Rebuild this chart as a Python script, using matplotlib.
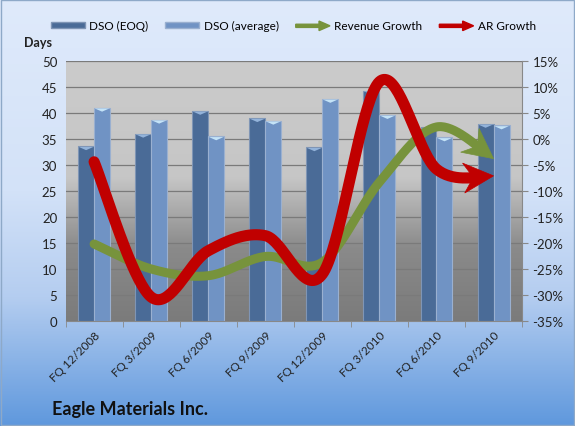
import numpy as np
import matplotlib
matplotlib.use("Agg")
import matplotlib.pyplot as plt
import matplotlib.patches as mpatches
from matplotlib.legend_handler import HandlerPatch
from matplotlib.colors import LinearSegmentedColormap

plt.rcParams['font.family'] = ['Lato', 'DejaVu Sans']

# data
quarters = ["FQ 12/2008", "FQ 3/2009", "FQ 6/2009", "FQ 9/2009",
            "FQ 12/2009", "FQ 3/2010", "FQ 6/2010", "FQ 9/2010"]
dso_eoq = [33.6, 36.0, 40.4, 39.0, 33.4, 44.3, 37.2, 37.9]
dso_avg = [41.0, 38.7, 35.5, 38.5, 42.7, 39.6, 35.3, 37.6]
revenue_growth = [-20.2, -25.0, -26.3, -22.6, -23.7, -8.3, 2.3, -3.8]
ar_growth = [-4.4, -30.4, -21.5, -18.6, -26.0, 11.0, -5.8, -7.1]

EOQ_COL = "#4a6b97"
AVG_COL = "#7093c4"
GREEN = "#77933c"
RED = "#c00000"


def smooth(xs, ys, n=40):
    # Excel-like smoothed line (Catmull-Rom through the points)
    p = np.column_stack([xs, ys]).astype(float)
    pts = np.vstack([p[0], p, p[-1]])
    out = []
    for i in range(1, len(pts) - 2):
        p0, p1, p2, p3 = pts[i - 1], pts[i], pts[i + 1], pts[i + 2]
        c1 = p1 + (p2 - p0) / 6.0
        c2 = p2 - (p3 - p1) / 6.0
        t = np.linspace(0, 1, n)[:, None]
        seg = ((1 - t) ** 3) * p1 + 3 * ((1 - t) ** 2) * t * c1 + 3 * (1 - t) * t ** 2 * c2 + t ** 3 * p2
        out.append(seg if i == 1 else seg[1:])
    return np.vstack(out)


class HandlerArrow(HandlerPatch):
    def create_artists(self, legend, orig_handle, xdescent, ydescent,
                       width, height, fontsize, trans):
        arr = mpatches.FancyArrow(0, height / 2, width, 0, width=height * 0.5,
                                  head_width=height * 1.5, head_length=width * 0.32,
                                  length_includes_head=True,
                                  color=orig_handle.get_facecolor())
        arr.set_transform(trans)
        return [arr]


fig = plt.figure(figsize=(5.75, 4.27), dpi=100)

# figure background gradient
bg = fig.add_axes([0, 0, 1, 1], zorder=-10)
bg_cmap = LinearSegmentedColormap.from_list(
    "bg", [(0, "#dfeafb"), (0.45, "#d3e2f8"), (0.7, "#b4cdf0"), (1, "#5f98dd")])
bg.imshow(np.linspace(0, 1, 256)[:, None], aspect="auto", cmap=bg_cmap,
          extent=[0, 1, 0, 1], transform=bg.transAxes)
bg.set_axis_off()
fig.patches.append(mpatches.Rectangle((0.002, 0.002), 0.996, 0.996, transform=fig.transFigure,
                                      fill=False, edgecolor="#8ea9c8", linewidth=1))

ax = fig.add_axes([0.114, 0.246, 0.794, 0.609])
x = np.arange(len(quarters))

# plot area gradient
pa_cmap = LinearSegmentedColormap.from_list(
    "pa", [(0, "#cbcbcb"), (0.45, "#c6c6c6"), (0.72, "#8a8a8a"), (1, "#7b7b7b")])
ax.imshow(np.linspace(0, 1, 256)[:, None], aspect="auto", cmap=pa_cmap,
          extent=[0, 1, 0, 1], transform=ax.transAxes, zorder=0)

w = 0.28
ax.bar(x - w / 2, dso_eoq, width=w, color=EOQ_COL, edgecolor="#7f95b5", linewidth=0.8, zorder=2)
ax.bar(x + w / 2, dso_avg, width=w, color=AVG_COL, edgecolor="#9ab0d0", linewidth=0.8, zorder=2)
# flat light chevron caps on the bar tops
cap = [(-1, 0.22), (1, 0.22), (0, -0.22)]
ax.scatter(x - w / 2, np.array(dso_eoq) - 0.45, marker=cap, s=110, color="#93b3da",
           edgecolors="none", zorder=2.5)
ax.scatter(x + w / 2, np.array(dso_avg) - 0.45, marker=cap, s=110, color="#c4e3f7",
           edgecolors="none", zorder=2.5)

ax.set_xlim(-0.5, len(quarters) - 0.5)
ax.set_ylim(0, 50)
ax.set_yticks(np.arange(0, 51, 5))
ax.yaxis.grid(True, color="#7a7a7a", linewidth=0.9)
ax.set_axisbelow(True)
for gl in ax.get_ygridlines():
    gl.set_zorder(1)
ax.tick_params(axis="y", length=0, labelsize=9.5, pad=6, colors="#222222")
ax.set_xticks(x)
ax.set_xticklabels(quarters, rotation=45, ha="right", rotation_mode="anchor",
                   fontsize=8.5, color="#222222")
ax.set_xticks(np.arange(-0.5, len(quarters), 1), minor=True)
ax.tick_params(axis="x", which="major", length=0, pad=6)
ax.tick_params(axis="x", which="minor", length=4, color="#888888")
for s in ["top", "right", "left"]:
    ax.spines[s].set_visible(False)
ax.spines["bottom"].set_color("#888888")

ax.text(-0.03, 1.05, "Days", transform=ax.transAxes, ha="right", va="bottom",
        fontsize=9, fontweight="bold", color="#222222")

ax2 = ax.twinx()
ax2.set_ylim(-35, 15)
ax2.set_yticks(np.arange(-35, 16, 5))
ax2.set_yticklabels([f"{v}%" for v in range(-35, 16, 5)])
ax2.tick_params(axis="y", length=4, color="#888888", labelsize=9.5, colors="#222222")
for s in ["top", "left", "bottom"]:
    ax2.spines[s].set_visible(False)
ax2.spines["right"].set_color("#888888")
ax2.patch.set_visible(False)

# smoothed lines ending in stealth arrow heads (head drawn in pixel space)
for vals, col, lw, head, z in [(revenue_growth, GREEN, 6.5, 30, 3), (ar_growth, RED, 8, 30, 4)]:
    curve = smooth(x, vals)
    pix = ax2.transData.transform(curve)
    tip = pix[-1]
    dist = np.hypot(*(pix - tip).T)
    back = pix[np.argmin(np.abs(dist - head))]
    d = (tip - back) / np.hypot(*(tip - back))
    nrm = np.array([-d[1], d[0]])
    notch = tip - 0.68 * head * d
    keep = dist >= 0.62 * head
    line_pix = np.vstack([pix[keep], notch])
    line = ax2.transData.inverted().transform(line_pix)
    ax2.plot(line[:, 0], line[:, 1], color=col, linewidth=lw,
             solid_capstyle="round", solid_joinstyle="round", zorder=z)
    poly = np.array([tip,
                     tip - head * d + 0.5 * head * nrm,
                     notch,
                     tip - head * d - 0.5 * head * nrm])
    fig.patches.append(mpatches.Polygon(poly, closed=True, transform=None,
                                        facecolor=col, edgecolor=col, linewidth=0.5,
                                        zorder=z))

h_eoq = mpatches.Patch(facecolor=EOQ_COL, edgecolor="#7f95b5")
h_avg = mpatches.Patch(facecolor=AVG_COL, edgecolor="#9ab0d0")
h_rev = mpatches.Patch(facecolor=GREEN)
h_ar = mpatches.Patch(facecolor=RED)
fig.legend([h_eoq, h_avg, h_rev, h_ar],
           ["DSO (EOQ)", "DSO (average)", "Revenue Growth", "AR Growth"],
           handler_map={h_rev: HandlerArrow(), h_ar: HandlerArrow()},
           loc="center", bbox_to_anchor=(0.51, 0.938), ncol=4, frameon=False,
           fontsize=8.5, handlelength=2.9, handleheight=0.45, columnspacing=1.45,
           handletextpad=0.35)

fig.text(0.09, 0.028, "Eagle Materials Inc.", fontsize=13, fontweight="bold", color="#111111")

fig.savefig("out.png", dpi=100)
